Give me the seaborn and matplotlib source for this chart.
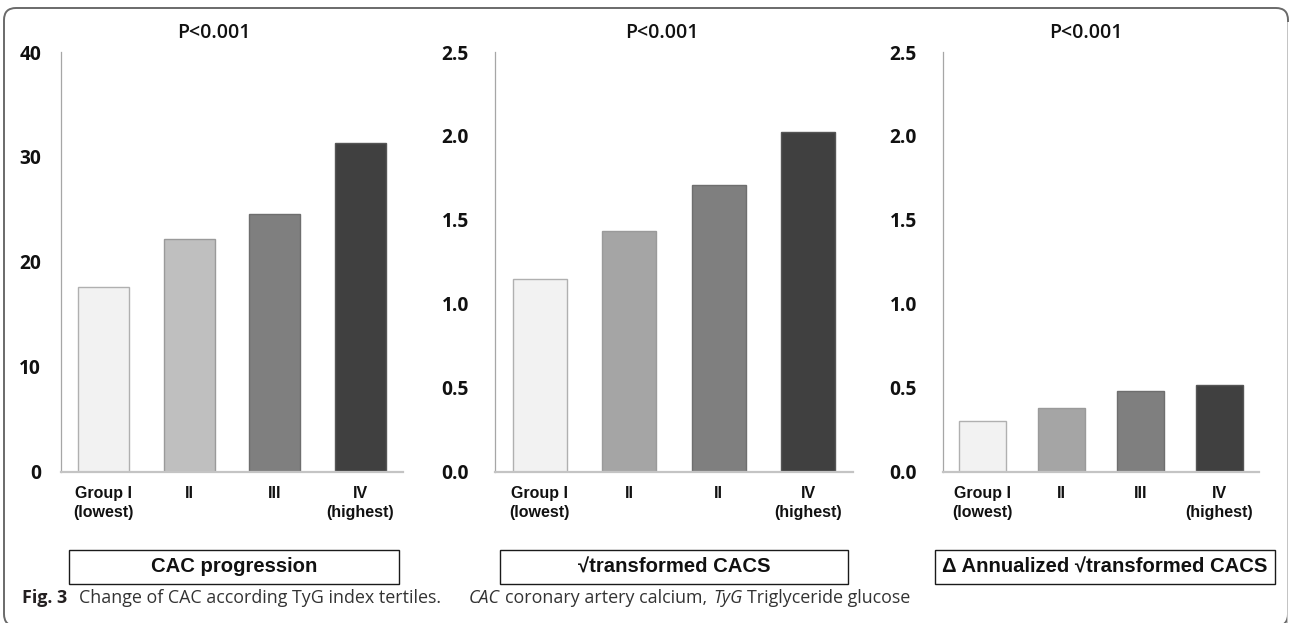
import numpy as np
import pandas as pd
import matplotlib
matplotlib.use("Agg")
import matplotlib.pyplot as plt
import seaborn as sns
from matplotlib.patches import FancyBboxPatch, Rectangle
from matplotlib.transforms import IdentityTransform

# ---- data -------------------------------------------------------------
groups = ["I", "II", "III", "IV"]
cac_progression = [17.6, 22.2, 24.6, 31.3]
sqrt_cacs = [1.145, 1.433, 1.707, 2.025]
annual_sqrt_cacs = [0.30, 0.378, 0.48, 0.513]

labels_cac = ["Group I\n(lowest)", "II", "III", "IV\n(highest)"]
labels_sqrt = ["Group I\n(lowest)", "II", "II", "IV\n(highest)"]
labels_annual = ["Group I\n(lowest)", "II", "III", "IV\n(highest)"]

panel_names = ["CAC progression", "\u221atransformed CACS",
               "\u0394 Annualized \u221atransformed CACS"]
p_value_text = "P<0.001"

yticks_cac = [0, 10, 20, 30, 40]
yticks_sqrt = [0.0, 0.5, 1.0, 1.5, 2.0, 2.5]

# ---- styling ----------------------------------------------------------
palette_cac = ["#f2f2f2", "#bfbfbf", "#7f7f7f", "#404040"]
palette_sqrt = ["#f2f2f2", "#a5a5a5", "#7f7f7f", "#404040"]
edge_colors = ["#b0b0b0", "#9a9a9a", "#6e6e6e", "#555555"]

sns.set_style("white")
plt.rcParams["font.family"] = ["Liberation Sans", "DejaVu Sans"]

W, H = 1290, 623
fig = plt.figure(figsize=(W / 100, H / 100), dpi=100)
fig.patch.set_facecolor("white")


def fx(px):
    return px / W


def fy(px_from_top):
    return 1 - px_from_top / H


panels = [
    dict(values=cac_progression, labels=labels_cac, palette=palette_cac,
         yticks=yticks_cac, fmt="{:.0f}", ax_x=(61, 403), box_x=(69, 399),
         title_x=214, pad=14.4),
    dict(values=sqrt_cacs, labels=labels_sqrt, palette=palette_sqrt,
         yticks=yticks_sqrt, fmt="{:.1f}", ax_x=(495, 853), box_x=(500, 848),
         title_x=662, pad=18.7),
    dict(values=annual_sqrt_cacs, labels=labels_annual, palette=palette_sqrt,
         yticks=yticks_sqrt, fmt="{:.1f}", ax_x=(943, 1259), box_x=(935, 1275),
         title_x=1086, pad=18.7),
]

ax_top, ax_bottom = 52, 471.5

for i, p in enumerate(panels):
    x0, x1 = p["ax_x"]
    ax = fig.add_axes([fx(x0), fy(ax_bottom), fx(x1 - x0), (ax_bottom - ax_top) / H])
    df = pd.DataFrame({"group": groups, "value": p["values"]})
    sns.barplot(data=df, x="group", y="value", hue="group", order=groups,
                hue_order=groups, palette=p["palette"], saturation=1,
                width=0.6, dodge=False, legend=False, ax=ax, linewidth=1.0)
    for bar, ec in zip(ax.patches, edge_colors):
        bar.set_edgecolor(ec)
    ax.set_xlim(-0.5, 3.5)
    ax.set_ylim(p["yticks"][0], p["yticks"][-1])
    ax.set_yticks(p["yticks"])
    ax.set_yticklabels([p["fmt"].format(v) for v in p["yticks"]],
                       fontfamily="Open Sans", fontweight="bold",
                       fontsize=13.8, color="#111111")
    ax.set_xticks(range(len(groups)))
    ax.set_xticklabels(p["labels"], fontfamily="Liberation Sans",
                       fontweight="bold", fontsize=11.5, color="#111111",
                       linespacing=1.35)
    ax.tick_params(axis="y", length=0, pad=p["pad"])
    ax.tick_params(axis="x", length=0, pad=10.5)
    ax.set_xlabel("")
    ax.set_ylabel("")
    for side in ("top", "right"):
        ax.spines[side].set_visible(False)
    ax.spines["left"].set_color("#a6a6a6")
    ax.spines["left"].set_linewidth(0.9)
    ax.spines["bottom"].set_color("#c4c4c4")
    ax.spines["bottom"].set_linewidth(1.6)
    ax.patch.set_alpha(0)

    # p-value heading
    fig.text(fx(p["title_x"]), fy(37.5), p_value_text, ha="center",
             va="baseline", fontfamily="Open Sans", fontweight="semibold",
             fontsize=14, color="#111111")

    # boxed panel name
    bx0, bx1 = p["box_x"]
    fig.add_artist(Rectangle((fx(bx0), fy(584)), fx(bx1 - bx0), 34 / H,
                             transform=fig.transFigure, facecolor="white",
                             edgecolor="#1a1a1a", linewidth=1.0))
    fig.text(fx((bx0 + bx1) / 2), fy(567), panel_names[i], ha="center",
             va="center", fontfamily=["Liberation Sans", "DejaVu Sans"],
             fontweight="bold", fontsize=14.6, color="#111111")

# rounded outer frame, open at the bottom edge of the image
frame = FancyBboxPatch((4, -3), 1284, 618, boxstyle="round,pad=0,rounding_size=12",
                       transform=IdentityTransform(), facecolor="none",
                       edgecolor="#6a6a6a", linewidth=1.4)
fig.add_artist(frame)
# the straight right-hand side of the frame is drawn in a lighter grey
fig.add_artist(Rectangle((1286.5, -3), 3, 604, transform=IdentityTransform(),
                         facecolor="white", edgecolor="none"))
fig.add_artist(Rectangle((1287.3, -3), 0.9, 604, transform=IdentityTransform(),
                         facecolor="#c4c4c4", edgecolor="none"))

# caption, laid out piece by piece
renderer = fig.canvas.get_renderer()
segments = [
    ("Fig. 3", dict(fontweight="bold", color="#231f20"), 12),
    ("Change of CAC according TyG index tertiles.", dict(color="#333333"), 27),
    ("CAC", dict(fontstyle="italic", color="#333333"), 6),
    ("coronary artery calcium,", dict(color="#333333"), 6),
    ("TyG", dict(fontstyle="italic", color="#333333"), 4),
    ("Triglyceride glucose", dict(color="#333333"), 0),
]
x = 22
for text, style, gap in segments:
    t = fig.text(fx(x), fy(603), text, ha="left", va="baseline",
                 fontfamily="Open Sans", fontsize=12.9, **style)
    bb = t.get_window_extent(renderer=renderer)
    x += bb.width + gap

fig.savefig("out.png", dpi=100)
